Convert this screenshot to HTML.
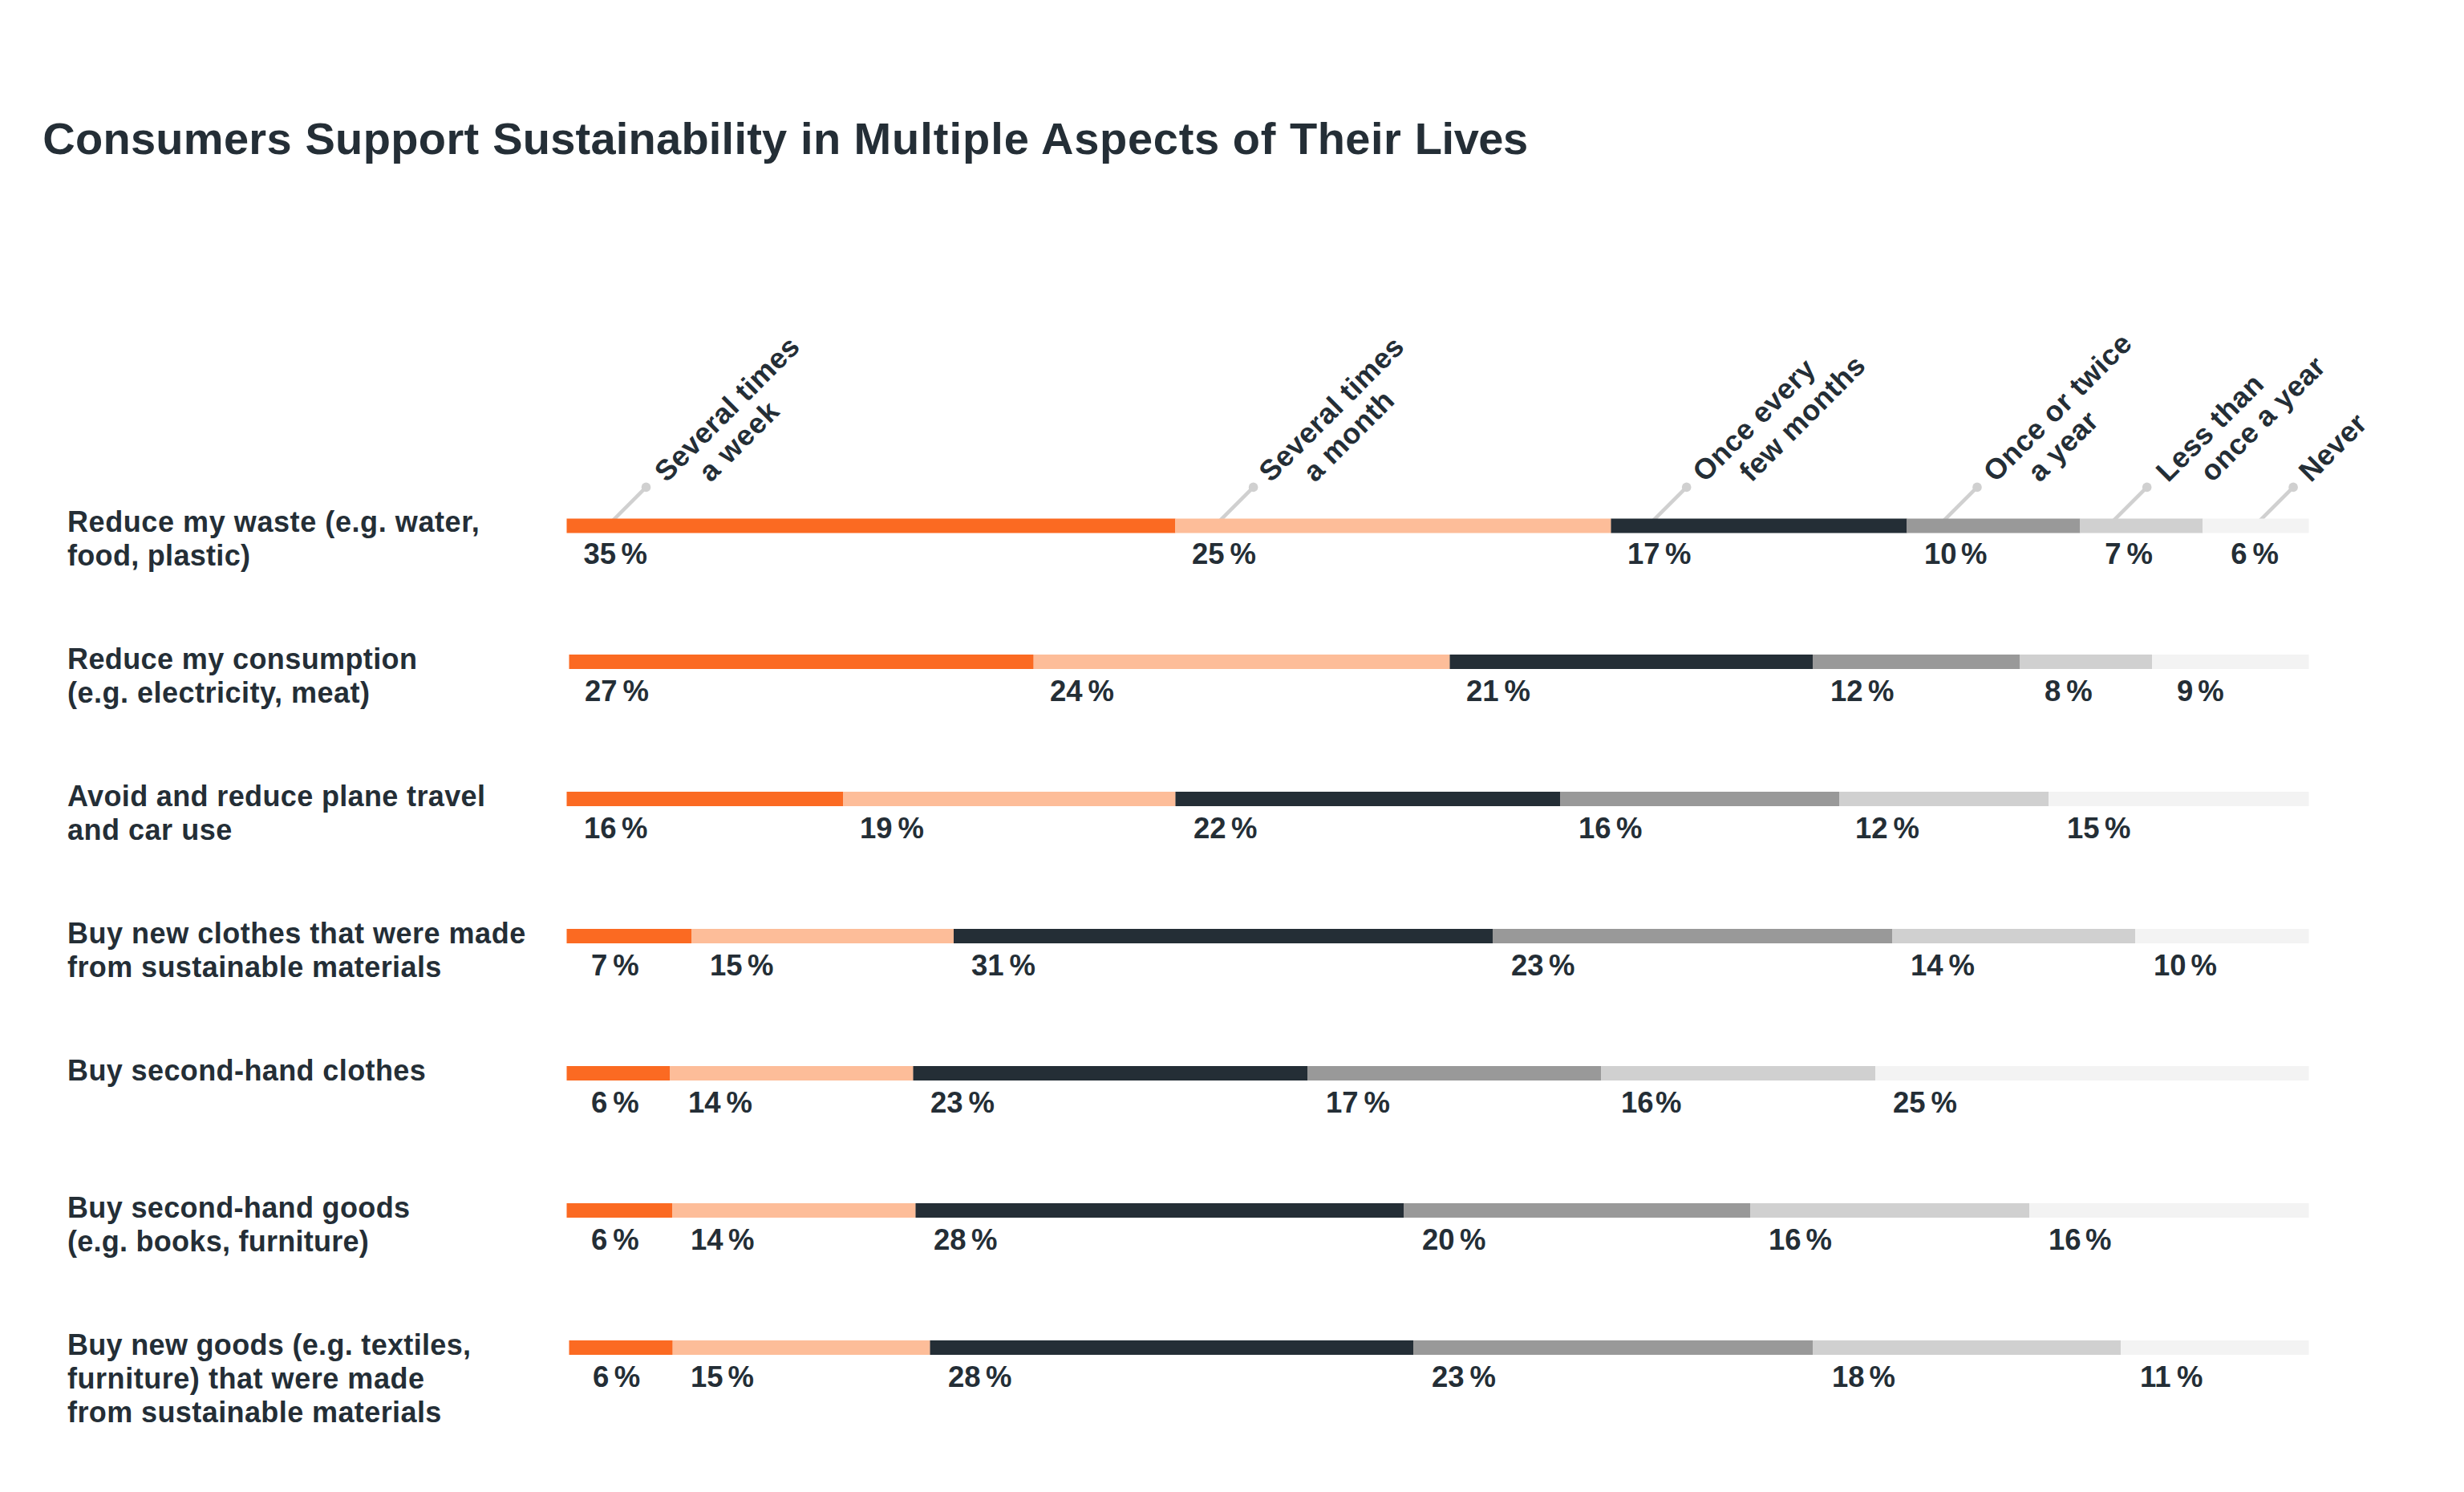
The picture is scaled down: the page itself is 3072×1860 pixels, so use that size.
<!DOCTYPE html>
<html lang="en"><head><meta charset="utf-8"><title>Consumers Support Sustainability in Multiple Aspects of Their Lives</title>
<style>html,body{margin:0;padding:0;background:#fff}body{width:3072px;height:1860px}svg{display:block}text{font-family:"Liberation Sans",sans-serif;font-weight:700;fill:#242e36}.t{font-size:56.0px}.r{font-size:36.0px}.p{font-size:36.5px}.h{font-size:36.0px;letter-spacing:0.45px}</style></head><body>
<svg width="3072" height="1860" viewBox="0 0 3072 1860">
<rect width="3072" height="1860" fill="#ffffff"/>
<text class="t" y="192.0"><tspan x="53.20" textLength="310.40" lengthAdjust="spacing">Consumers</tspan> <tspan x="380.40" textLength="216.80" lengthAdjust="spacing">Support</tspan> <tspan x="614.20" textLength="367.00" lengthAdjust="spacing">Sustainability</tspan> <tspan x="998.00" textLength="50.20" lengthAdjust="spacing">in</tspan> <tspan x="1064.40" textLength="218.60" lengthAdjust="spacing">Multiple</tspan> <tspan x="1298.00" textLength="222.20" lengthAdjust="spacing">Aspects</tspan> <tspan x="1536.80" textLength="53.60" lengthAdjust="spacing">of</tspan> <tspan x="1608.00" textLength="138.80" lengthAdjust="spacing">Their</tspan> <tspan x="1763.80" textLength="141.40" lengthAdjust="spacing">Lives</tspan></text>
<g stroke="#d0d0d0" stroke-width="4.6" fill="#d0d0d0">
<line x1="761.5" y1="651.4" x2="805.5" y2="607.4"/>
<circle cx="805.5" cy="607.4" r="5.8" stroke="none"/>
<line x1="1518.6" y1="651.4" x2="1562.6" y2="607.4"/>
<circle cx="1562.6" cy="607.4" r="5.8" stroke="none"/>
<line x1="2058.7" y1="651.4" x2="2102.7" y2="607.4"/>
<circle cx="2102.7" cy="607.4" r="5.8" stroke="none"/>
<line x1="2421.0" y1="651.4" x2="2465.0" y2="607.4"/>
<circle cx="2465.0" cy="607.4" r="5.8" stroke="none"/>
<line x1="2632.7" y1="651.4" x2="2676.7" y2="607.4"/>
<circle cx="2676.7" cy="607.4" r="5.8" stroke="none"/>
<line x1="2815.1" y1="651.4" x2="2859.1" y2="607.4"/>
<circle cx="2859.1" cy="607.4" r="5.8" stroke="none"/>
</g>
<rect x="706.5" y="646.50" width="758.8" height="18.00" fill="#fb6a22"/>
<rect x="1465.0" y="646.50" width="543.8" height="18.00" fill="#fdbd99"/>
<rect x="2008.5" y="646.50" width="368.8" height="18.00" fill="#242e36"/>
<rect x="2377.0" y="646.50" width="216.3" height="18.00" fill="#999999"/>
<rect x="2593.0" y="646.50" width="153.3" height="18.00" fill="#d0d0d0"/>
<rect x="2746.0" y="646.50" width="132.5" height="18.00" fill="#f3f3f3"/>
<rect x="709.5" y="816.00" width="579.3" height="18.00" fill="#fb6a22"/>
<rect x="1288.5" y="816.00" width="519.3" height="18.00" fill="#fdbd99"/>
<rect x="1807.5" y="816.00" width="452.8" height="18.00" fill="#242e36"/>
<rect x="2260.0" y="816.00" width="258.3" height="18.00" fill="#999999"/>
<rect x="2518.0" y="816.00" width="165.3" height="18.00" fill="#d0d0d0"/>
<rect x="2683.0" y="816.00" width="195.5" height="18.00" fill="#f3f3f3"/>
<rect x="706.5" y="987.00" width="344.8" height="18.00" fill="#fb6a22"/>
<rect x="1051.0" y="987.00" width="414.8" height="18.00" fill="#fdbd99"/>
<rect x="1465.5" y="987.00" width="479.8" height="18.00" fill="#242e36"/>
<rect x="1945.0" y="987.00" width="348.3" height="18.00" fill="#999999"/>
<rect x="2293.0" y="987.00" width="261.3" height="18.00" fill="#d0d0d0"/>
<rect x="2554.0" y="987.00" width="324.5" height="18.00" fill="#f3f3f3"/>
<rect x="706.5" y="1158.00" width="155.8" height="18.00" fill="#fb6a22"/>
<rect x="862.0" y="1158.00" width="327.3" height="18.00" fill="#fdbd99"/>
<rect x="1189.0" y="1158.00" width="672.3" height="18.00" fill="#242e36"/>
<rect x="1861.0" y="1158.00" width="498.3" height="18.00" fill="#999999"/>
<rect x="2359.0" y="1158.00" width="303.3" height="18.00" fill="#d0d0d0"/>
<rect x="2662.0" y="1158.00" width="216.5" height="18.00" fill="#f3f3f3"/>
<rect x="706.5" y="1329.00" width="128.8" height="18.00" fill="#fb6a22"/>
<rect x="835.0" y="1329.00" width="303.8" height="18.00" fill="#fdbd99"/>
<rect x="1138.5" y="1329.00" width="491.8" height="18.00" fill="#242e36"/>
<rect x="1630.0" y="1329.00" width="366.3" height="18.00" fill="#999999"/>
<rect x="1996.0" y="1329.00" width="342.3" height="18.00" fill="#d0d0d0"/>
<rect x="2338.0" y="1329.00" width="540.5" height="18.00" fill="#f3f3f3"/>
<rect x="706.5" y="1500.00" width="131.8" height="18.00" fill="#fb6a22"/>
<rect x="838.0" y="1500.00" width="303.8" height="18.00" fill="#fdbd99"/>
<rect x="1141.5" y="1500.00" width="608.8" height="18.00" fill="#242e36"/>
<rect x="1750.0" y="1500.00" width="432.3" height="18.00" fill="#999999"/>
<rect x="2182.0" y="1500.00" width="348.3" height="18.00" fill="#d0d0d0"/>
<rect x="2530.0" y="1500.00" width="348.5" height="18.00" fill="#f3f3f3"/>
<rect x="709.5" y="1671.00" width="129.3" height="18.00" fill="#fb6a22"/>
<rect x="838.5" y="1671.00" width="321.3" height="18.00" fill="#fdbd99"/>
<rect x="1159.5" y="1671.00" width="602.8" height="18.00" fill="#242e36"/>
<rect x="1762.0" y="1671.00" width="498.3" height="18.00" fill="#999999"/>
<rect x="2260.0" y="1671.00" width="384.3" height="18.00" fill="#d0d0d0"/>
<rect x="2644.0" y="1671.00" width="234.5" height="18.00" fill="#f3f3f3"/>
<text class="p" x="727.40" y="702.70">35<tspan dx="6.499999999999659">%</tspan></text>
<text class="p" x="1486.00" y="702.70">25<tspan dx="7.0">%</tspan></text>
<text class="p" x="2029.00" y="702.70">17<tspan dx="6.5">%</tspan></text>
<text class="p" x="2399.00" y="702.70">10<tspan dx="5.5">%</tspan></text>
<text class="p" x="2624.20" y="702.70">7<tspan dx="7.000000000001364">%</tspan></text>
<text class="p" x="2781.20" y="702.70">6<tspan dx="7.0000000000027285">%</tspan></text>
<text class="p" x="729.00" y="873.70">27<tspan dx="7.0">%</tspan></text>
<text class="p" x="1309.00" y="873.70">24<tspan dx="7.0">%</tspan></text>
<text class="p" x="1828.00" y="873.70">21<tspan dx="7.0">%</tspan></text>
<text class="p" x="2282.00" y="873.70">12<tspan dx="6.5">%</tspan></text>
<text class="p" x="2549.00" y="873.70">8<tspan dx="7.0">%</tspan></text>
<text class="p" x="2714.00" y="873.70">9<tspan dx="6.0">%</tspan></text>
<text class="p" x="728.00" y="1044.70">16<tspan dx="6.5">%</tspan></text>
<text class="p" x="1072.00" y="1044.70">19<tspan dx="7.0">%</tspan></text>
<text class="p" x="1488.00" y="1044.70">22<tspan dx="6.5">%</tspan></text>
<text class="p" x="1968.00" y="1044.70">16<tspan dx="6.5">%</tspan></text>
<text class="p" x="2313.00" y="1044.70">12<tspan dx="7.0">%</tspan></text>
<text class="p" x="2577.00" y="1044.70">15<tspan dx="6.5">%</tspan></text>
<text class="p" x="737.00" y="1215.70">7<tspan dx="7.0">%</tspan></text>
<text class="p" x="885.00" y="1215.70">15<tspan dx="6.5">%</tspan></text>
<text class="p" x="1211.00" y="1215.70">31<tspan dx="7.0">%</tspan></text>
<text class="p" x="1884.00" y="1215.70">23<tspan dx="6.5">%</tspan></text>
<text class="p" x="2382.00" y="1215.70">14<tspan dx="7.0">%</tspan></text>
<text class="p" x="2685.00" y="1215.70">10<tspan dx="6.0">%</tspan></text>
<text class="p" x="737.00" y="1386.70">6<tspan dx="7.0">%</tspan></text>
<text class="p" x="858.00" y="1386.70">14<tspan dx="7.0">%</tspan></text>
<text class="p" x="1160.00" y="1386.70">23<tspan dx="7.0">%</tspan></text>
<text class="p" x="1653.00" y="1386.70">17<tspan dx="7.0">%</tspan></text>
<text class="p" x="2021.00" y="1386.70">16<tspan dx="2.5">%</tspan></text>
<text class="p" x="2360.00" y="1386.70">25<tspan dx="7.0">%</tspan></text>
<text class="p" x="737.00" y="1557.70">6<tspan dx="7.0">%</tspan></text>
<text class="p" x="861.00" y="1557.70">14<tspan dx="6.5">%</tspan></text>
<text class="p" x="1164.00" y="1557.70">28<tspan dx="6.5">%</tspan></text>
<text class="p" x="1773.00" y="1557.70">20<tspan dx="6.5">%</tspan></text>
<text class="p" x="2205.00" y="1557.70">16<tspan dx="6.0">%</tspan></text>
<text class="p" x="2554.00" y="1557.70">16<tspan dx="5.5">%</tspan></text>
<text class="p" x="739.00" y="1728.70">6<tspan dx="6.5">%</tspan></text>
<text class="p" x="861.00" y="1728.70">15<tspan dx="6.0">%</tspan></text>
<text class="p" x="1182.00" y="1728.70">28<tspan dx="6.5">%</tspan></text>
<text class="p" x="1785.00" y="1728.70">23<tspan dx="7.0">%</tspan></text>
<text class="p" x="2284.00" y="1728.70">18<tspan dx="6.0">%</tspan></text>
<text class="p" x="2668.00" y="1728.70">11<tspan dx="7.5">%</tspan></text>
<text class="r" x="84.00" y="663.00" textLength="513.80" lengthAdjust="spacing">Reduce my waste (e.g. water,</text>
<text class="r" x="84.00" y="705.00" textLength="228.00" lengthAdjust="spacing">food, plastic)</text>
<text class="r" x="84.00" y="834.00" textLength="436.00" lengthAdjust="spacing">Reduce my consumption</text>
<text class="r" x="84.00" y="876.00" textLength="377.00" lengthAdjust="spacing">(e.g. electricity, meat)</text>
<text class="r" x="84.00" y="1005.00" textLength="521.00" lengthAdjust="spacing">Avoid and reduce plane travel</text>
<text class="r" x="84.00" y="1047.00" textLength="205.20" lengthAdjust="spacing">and car use</text>
<text class="r" x="84.00" y="1176.00" textLength="571.20" lengthAdjust="spacing">Buy new clothes that were made</text>
<text class="r" x="84.00" y="1218.00" textLength="466.40" lengthAdjust="spacing">from sustainable materials</text>
<text class="r" x="84.00" y="1347.00" textLength="446.80" lengthAdjust="spacing">Buy second-hand clothes</text>
<text class="r" x="84.00" y="1518.00" textLength="427.00" lengthAdjust="spacing">Buy second-hand goods</text>
<text class="r" x="84.00" y="1560.00" textLength="375.80" lengthAdjust="spacing">(e.g. books, furniture)</text>
<text class="r" x="84.00" y="1689.00" textLength="503.00" lengthAdjust="spacing">Buy new goods (e.g. textiles,</text>
<text class="r" x="84.00" y="1731.00" textLength="445.00" lengthAdjust="spacing">furniture) that were made</text>
<text class="r" x="84.00" y="1773.00" textLength="466.40" lengthAdjust="spacing">from sustainable materials</text>
<text class="h" transform="translate(830.90 602.50) rotate(-45)">Several times</text>
<text class="h" transform="translate(886.00 602.50) rotate(-45)" style="letter-spacing:1.1px">a week</text>
<text class="h" transform="translate(1584.40 602.50) rotate(-45)">Several times</text>
<text class="h" transform="translate(1639.50 602.50) rotate(-45)">a month</text>
<text class="h" transform="translate(2125.30 602.50) rotate(-45)">Once every</text>
<text class="h" transform="translate(2183.40 602.50) rotate(-45)">few months</text>
<text class="h" transform="translate(2487.80 602.50) rotate(-45)" style="letter-spacing:0.6px">Once or twice</text>
<text class="h" transform="translate(2542.90 602.50) rotate(-45)">a year</text>
<text class="h" transform="translate(2702.90 602.50) rotate(-45)">Less than</text>
<text class="h" transform="translate(2758.00 602.50) rotate(-45)">once a year</text>
<text class="h" transform="translate(2880.90 602.50) rotate(-45)">Never</text>
</svg></body></html>
